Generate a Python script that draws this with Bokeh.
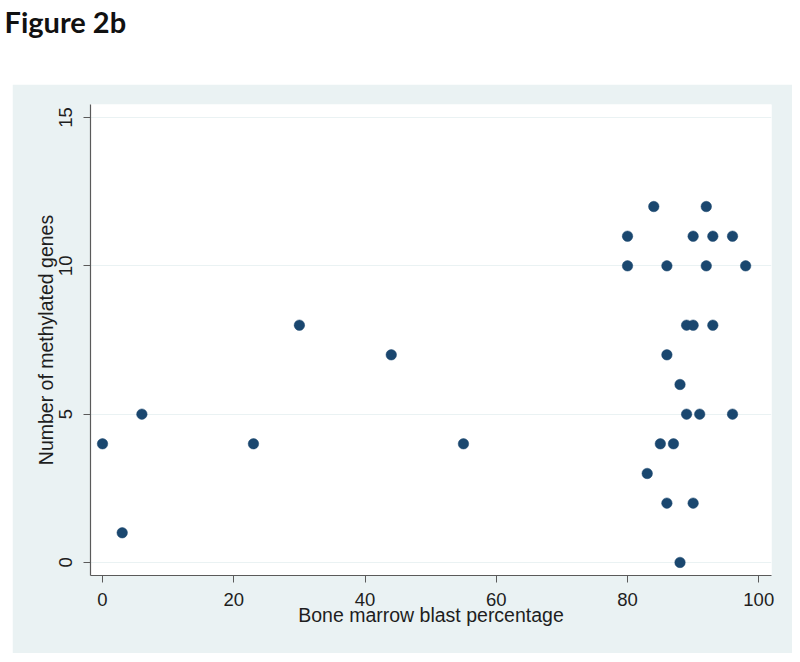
from bokeh.plotting import figure
from bokeh.models import Range1d, FixedTicker, Spacer, ColumnDataSource
from bokeh.layouts import column, row
from bokeh.core.properties import value
from bokeh.embed import file_html
from bokeh.resources import INLINE

# Data
blast_pct = [0, 3, 6, 23, 30, 44, 55,
             80, 80, 84, 92, 90, 93, 96, 86, 92, 98,
             89, 90, 93, 86, 88, 89, 91, 96, 85, 87, 83, 86, 90, 88]
methylated = [4, 1, 5, 4, 8, 7, 4,
              11, 10, 12, 12, 11, 11, 11, 10, 10, 10,
              8, 8, 8, 7, 6, 5, 5, 5, 4, 4, 3, 2, 2, 0]
x_ticks = [0, 20, 40, 60, 80, 100]
y_ticks = [0, 5, 10, 15]

title_text = "Figure 2b"
x_label = "Bone marrow blast percentage"
y_label = "Number of methylated genes"

PANEL = "#eaf2f3"
NAVY = "#1a476f"
AXIS = "#5a5a5a"
FONT = "Liberation Sans"

# Title strip
t = figure(width=792, height=84, x_range=Range1d(0, 792), y_range=Range1d(0, 84),
           output_backend="svg", toolbar_location=None, min_border=0,
           x_axis_type=None, y_axis_type=None)
t.outline_line_color = None
t.grid.visible = False
t.background_fill_color = "white"
t.border_fill_color = "white"
t.text(x=[4], y=[63], text=[title_text], text_font=value("Lato"),
       text_font_style="bold", text_font_size="29px", text_color="#111111",
       text_baseline="alphabetic", text_align="left")

# Main plot
src = ColumnDataSource(dict(x=blast_pct, y=methylated))
p = figure(width=780, height=569, output_backend="svg", toolbar_location=None,
           x_range=Range1d(-1.83, 101.94), y_range=Range1d(-0.44, 15.44),
           min_border_left=78, min_border_right=21, min_border_top=20,
           min_border_bottom=78)
p.border_fill_color = PANEL
p.background_fill_color = "white"
p.outline_line_color = None

p.scatter("x", "y", source=src, size=10.5, fill_color=NAVY, line_color=NAVY,
          line_width=0.5)

p.xaxis.ticker = FixedTicker(ticks=x_ticks)
p.yaxis.ticker = FixedTicker(ticks=y_ticks)
p.xgrid.visible = False
p.ygrid.grid_line_color = PANEL
p.ygrid.grid_line_width = 1.2

for ax in (p.xaxis[0], p.yaxis[0]):
    ax.axis_line_color = AXIS
    ax.axis_line_width = 1.2
    ax.major_tick_line_color = AXIS
    ax.major_tick_out = 7
    ax.major_tick_in = 0
    ax.minor_tick_line_color = None
    ax.major_label_text_font = FONT
    ax.major_label_text_font_size = "18.5px"
    ax.major_label_text_color = "#1e1e1e"
    ax.axis_label_text_font = FONT
    ax.axis_label_text_font_size = "19.5px"
    ax.axis_label_text_font_style = "normal"
    ax.axis_label_text_color = "#1e1e1e"

p.xaxis.axis_label = x_label
p.yaxis.axis_label = y_label
p.xaxis.major_label_standoff = 10
p.xaxis.axis_label_standoff = -5
p.yaxis.major_label_orientation = "vertical"
p.yaxis.major_label_standoff = 11
p.yaxis.axis_label_standoff = 0

layout = column(t, row(Spacer(width=12, height=569), p))
open("out.html", "w").write(file_html(layout, INLINE))
